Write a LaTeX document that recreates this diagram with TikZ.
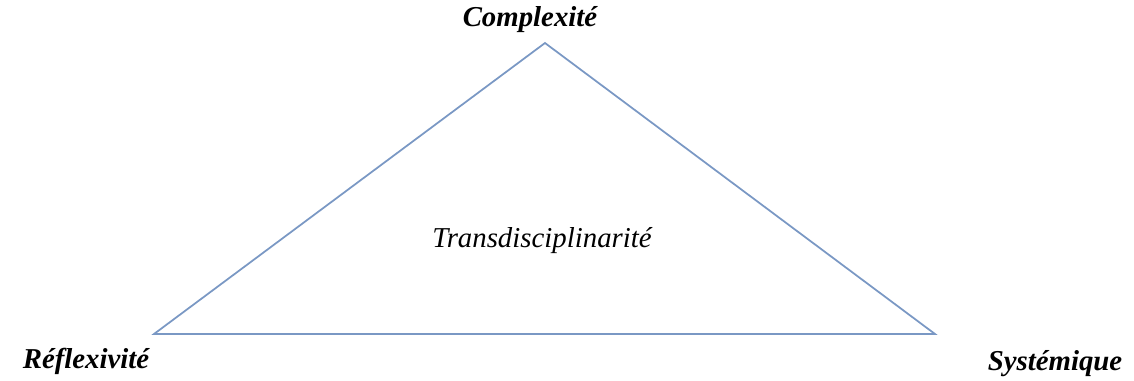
\documentclass[tikz,border=0pt]{standalone}
\usepackage{fontspec}
\setmainfont{Liberation Serif}
\usetikzlibrary{positioning}
\definecolor{trait}{RGB}{122,152,196}

\begin{document}
\begin{tikzpicture}[x=0.02cm, y=-0.02cm, every node/.style={inner sep=0pt, font=\fontsize{16.4}{19}\selectfont\itshape}, sommet/.style={font=\fontsize{16.4}{19}\selectfont\bfseries\itshape}]
        \useasboundingbox (0,0) rectangle (1134,380);

        %Nodes
        \coordinate (haut) at (545,43);
        \coordinate (gauche) at (154,334);
        \coordinate (droite) at (935,334);
        \node[sommet]   (complexite) at (530,20) {Complexité};
        \node[sommet]   (reflexivite) at (86,361) {Réflexivité};
        \node[sommet]   (systemique) at (1055,364) {Systémique};
        \node           (trans) at (542,241) {Transdisciplinarité};

        %Lines
        \draw[trait, line width=1pt] (haut) -- (gauche) -- (droite) -- cycle;

\end{tikzpicture}
\end{document}
